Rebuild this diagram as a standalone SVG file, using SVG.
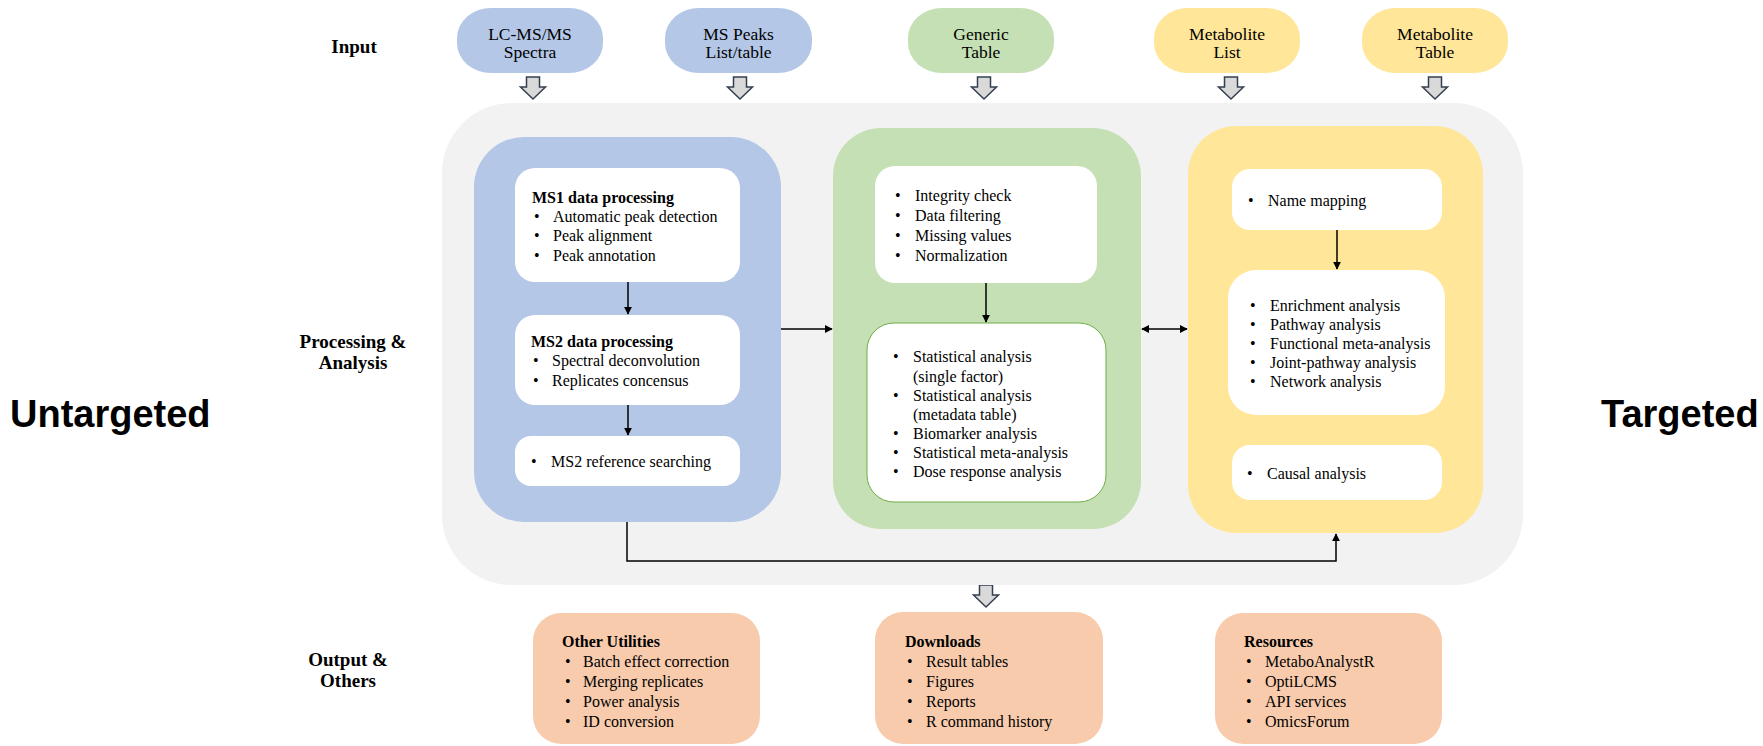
<svg xmlns="http://www.w3.org/2000/svg" width="1763" height="746" viewBox="0 0 1763 746">
<style>
text{font-family:"Liberation Serif","Times New Roman",serif;fill:#000}
.t{font-size:16px}
.b{font-size:16px;font-weight:bold}
.lab{font-size:19px;font-weight:bold;text-anchor:middle}
.pill{font-size:17.5px;text-anchor:middle}
.big{font-family:"Liberation Sans",Arial,sans-serif;font-size:38px;font-weight:bold}
.wb{fill:#fff}
.blue{fill:#b4c7e7}
.green{fill:#c5e0b4}
.yellow{fill:#ffe699}
.orange{fill:#f8cbad}
.bk{fill:#d9d9d9;stroke:#333f50;stroke-width:1.5}
.ln{fill:none;stroke:#000;stroke-width:1.5}
</style>
<defs>
<marker id="ah" viewBox="0 0 10 10" refX="9" refY="5" markerWidth="8" markerHeight="8" markerUnits="userSpaceOnUse" orient="auto-start-reverse">
<path d="M0,0 L10,5 L0,10 z" fill="#000"/>
</marker>
<path id="barrow" d="M-6.5,0 H6.5 V10 H12.5 L0,22 L-12.5,10 H-6.5 Z"/>
</defs>

<rect width="1763" height="746" fill="#fff"/>

<g id="side-labels">
<text class="big" x="10" y="427">Untargeted</text>
<text class="big" x="1601" y="427">Targeted</text>
<text class="lab" x="354" y="53">Input</text>
<text class="lab" x="353" y="348">Processing &amp;</text>
<text class="lab" x="353" y="369">Analysis</text>
<text class="lab" x="348" y="666">Output &amp;</text>
<text class="lab" x="348" y="687">Others</text>
</g>

<g id="input-lcms">
<rect class="blue" x="457" y="8" width="146" height="65" rx="34" ry="30"/>
<text class="pill" x="530" y="39.5">LC-MS/MS</text>
<text class="pill" x="530" y="58">Spectra</text>
</g>
<g id="input-mspeaks">
<rect class="blue" x="665" y="8" width="147" height="65" rx="34" ry="30"/>
<text class="pill" x="738.5" y="39.5">MS Peaks</text>
<text class="pill" x="738.5" y="58">List/table</text>
</g>
<g id="input-generic">
<rect class="green" x="908" y="8" width="146" height="65" rx="34" ry="30"/>
<text class="pill" x="981" y="39.5">Generic</text>
<text class="pill" x="981" y="58">Table</text>
</g>
<g id="input-metlist">
<rect class="yellow" x="1154" y="8" width="146" height="65" rx="34" ry="30"/>
<text class="pill" x="1227" y="39.5">Metabolite</text>
<text class="pill" x="1227" y="58">List</text>
</g>
<g id="input-mettable">
<rect class="yellow" x="1362" y="8" width="146" height="65" rx="34" ry="30"/>
<text class="pill" x="1435" y="39.5">Metabolite</text>
<text class="pill" x="1435" y="58">Table</text>
</g>

<g id="block-arrows">
<use href="#barrow" class="bk" x="533" y="77"/>
<use href="#barrow" class="bk" x="740" y="77"/>
<use href="#barrow" class="bk" x="984" y="77"/>
<use href="#barrow" class="bk" x="1231" y="77"/>
<use href="#barrow" class="bk" x="1435" y="77"/>
<use href="#barrow" class="bk" x="986" y="585"/>
</g>

<g id="processing-panel">
<rect x="442" y="103" width="1081" height="482" rx="70" fill="#f2f2f2"/>
</g>

<g id="untargeted-panel">
<rect class="blue" x="474" y="137" width="307" height="385" rx="50"/>
</g>
<g id="ms1">
<rect class="wb" x="515" y="168" width="225" height="114" rx="20"/>
<text class="b" x="532" y="203">MS1 data processing</text>
<text class="t" x="534" y="221.5">•</text><text class="t" x="553" y="221.5">Automatic peak detection</text>
<text class="t" x="534" y="241">•</text><text class="t" x="553" y="241">Peak alignment</text>
<text class="t" x="534" y="260.5">•</text><text class="t" x="553" y="260.5">Peak annotation</text>
</g>
<g id="ms2">
<rect class="wb" x="515" y="315" width="225" height="90" rx="20"/>
<text class="b" x="531" y="347">MS2 data processing</text>
<text class="t" x="533" y="365.5">•</text><text class="t" x="552" y="365.5">Spectral deconvolution</text>
<text class="t" x="533" y="385.5">•</text><text class="t" x="552" y="385.5">Replicates concensus</text>
</g>
<g id="ms2ref">
<rect class="wb" x="515" y="436" width="225" height="50" rx="16"/>
<text class="t" x="531" y="467">•</text><text class="t" x="551" y="467">MS2 reference searching</text>
</g>

<g id="generic-panel">
<rect class="green" x="833" y="128" width="308" height="401" rx="48"/>
</g>
<g id="preprocess">
<rect class="wb" x="875" y="166" width="222" height="117" rx="20"/>
<text class="t" x="895" y="200.5">•</text><text class="t" x="915" y="200.5">Integrity check</text>
<text class="t" x="895" y="220.5">•</text><text class="t" x="915" y="220.5">Data filtering</text>
<text class="t" x="895" y="240.5">•</text><text class="t" x="915" y="240.5">Missing values</text>
<text class="t" x="895" y="260.5">•</text><text class="t" x="915" y="260.5">Normalization</text>
</g>
<g id="statistics">
<rect class="wb" x="867" y="323" width="239" height="179" rx="27" stroke="#70ad47" stroke-width="1"/>
<text class="t" x="893" y="362">•</text><text class="t" x="913" y="362">Statistical analysis</text>
<text class="t" x="913" y="381.5">(single factor)</text>
<text class="t" x="893" y="401">•</text><text class="t" x="913" y="401">Statistical analysis</text>
<text class="t" x="913" y="420">(metadata table)</text>
<text class="t" x="893" y="439">•</text><text class="t" x="913" y="439">Biomarker analysis</text>
<text class="t" x="893" y="458">•</text><text class="t" x="913" y="458">Statistical meta-analysis</text>
<text class="t" x="893" y="477">•</text><text class="t" x="913" y="477">Dose response analysis</text>
</g>

<g id="targeted-panel">
<rect class="yellow" x="1188" y="126" width="295" height="407" rx="48"/>
</g>
<g id="namemap">
<rect class="wb" x="1232" y="169" width="210" height="61" rx="18"/>
<text class="t" x="1248" y="206">•</text><text class="t" x="1268" y="206">Name mapping</text>
</g>
<g id="enrichment">
<rect class="wb" x="1228" y="270" width="217" height="145" rx="28"/>
<text class="t" x="1250" y="310.5">•</text><text class="t" x="1270" y="310.5">Enrichment analysis</text>
<text class="t" x="1250" y="329.5">•</text><text class="t" x="1270" y="329.5">Pathway analysis</text>
<text class="t" x="1250" y="349">•</text><text class="t" x="1270" y="349">Functional meta-analysis</text>
<text class="t" x="1250" y="368">•</text><text class="t" x="1270" y="368">Joint-pathway analysis</text>
<text class="t" x="1250" y="387">•</text><text class="t" x="1270" y="387">Network analysis</text>
</g>
<g id="causal">
<rect class="wb" x="1232" y="445" width="210" height="55" rx="18"/>
<text class="t" x="1247" y="479">•</text><text class="t" x="1267" y="479">Causal analysis</text>
</g>

<g id="connectors">
<line class="ln" x1="628" y1="282" x2="628" y2="314" marker-end="url(#ah)"/>
<line class="ln" x1="628" y1="405" x2="628" y2="435" marker-end="url(#ah)"/>
<line class="ln" x1="781" y1="329" x2="832" y2="329" marker-end="url(#ah)"/>
<line class="ln" x1="986" y1="283" x2="986" y2="322" marker-end="url(#ah)"/>
<line class="ln" x1="1142" y1="329" x2="1187" y2="329" marker-start="url(#ah)" marker-end="url(#ah)"/>
<line class="ln" x1="1337" y1="230" x2="1337" y2="269" marker-end="url(#ah)"/>
<polyline class="ln" points="627,522 627,561 1336,561 1336,534" marker-end="url(#ah)"/>
</g>

<g id="other-utilities">
<rect class="orange" x="533" y="613" width="227" height="131" rx="28"/>
<text class="b" x="562" y="647">Other Utilities</text>
<text class="t" x="565" y="667">•</text><text class="t" x="583" y="667">Batch effect correction</text>
<text class="t" x="565" y="687">•</text><text class="t" x="583" y="687">Merging replicates</text>
<text class="t" x="565" y="707">•</text><text class="t" x="583" y="707">Power analysis</text>
<text class="t" x="565" y="727">•</text><text class="t" x="583" y="727">ID conversion</text>
</g>
<g id="downloads">
<rect class="orange" x="875" y="612" width="228" height="132" rx="28"/>
<text class="b" x="905" y="647">Downloads</text>
<text class="t" x="907" y="666.5">•</text><text class="t" x="926" y="666.5">Result tables</text>
<text class="t" x="907" y="686.5">•</text><text class="t" x="926" y="686.5">Figures</text>
<text class="t" x="907" y="706.5">•</text><text class="t" x="926" y="706.5">Reports</text>
<text class="t" x="907" y="727">•</text><text class="t" x="926" y="727">R command history</text>
</g>
<g id="resources">
<rect class="orange" x="1215" y="613" width="227" height="131" rx="28"/>
<text class="b" x="1244" y="647">Resources</text>
<text class="t" x="1246" y="667">•</text><text class="t" x="1265" y="667">MetaboAnalystR</text>
<text class="t" x="1246" y="687">•</text><text class="t" x="1265" y="687">OptiLCMS</text>
<text class="t" x="1246" y="707">•</text><text class="t" x="1265" y="707">API services</text>
<text class="t" x="1246" y="727">•</text><text class="t" x="1265" y="727">OmicsForum</text>
</g>
</svg>
